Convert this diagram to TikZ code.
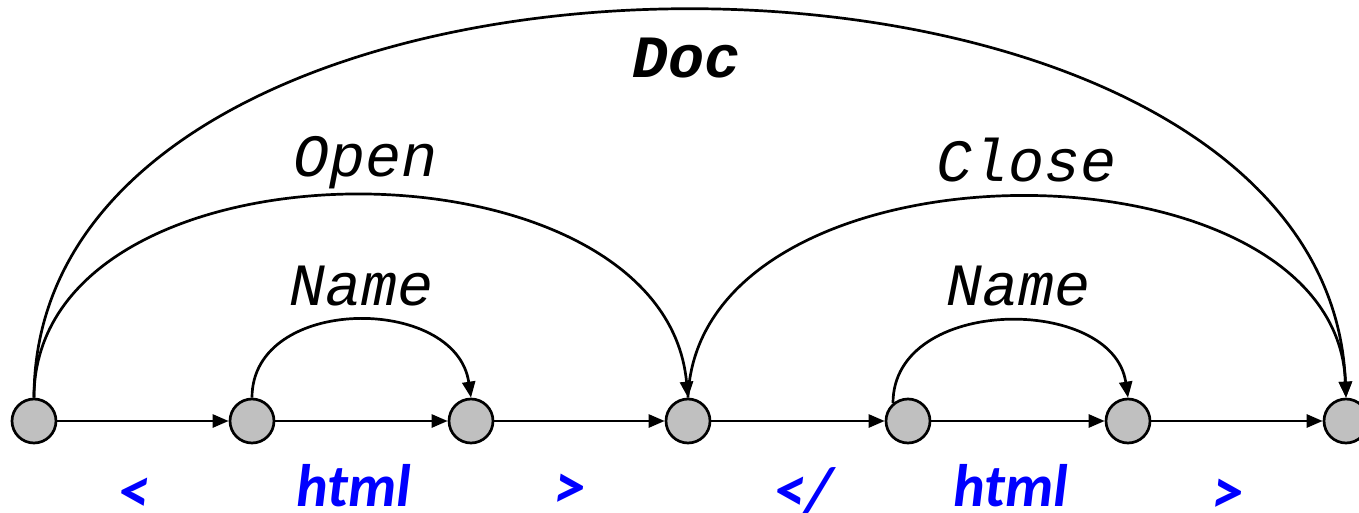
\documentclass[tikz,border=0pt]{standalone}
\usepackage{fontspec}
\setmonofont{Liberation Mono}
\newfontfamily\lblfont{Carlito}
\usetikzlibrary{arrows.meta}
\definecolor{stategray}{RGB}{192,192,192}
\tikzset{
  state/.style={circle, draw=black, line width=2.7pt, fill=stategray, minimum size=44pt, inner sep=0pt},
  arr/.style={line width=2.7pt, -{Triangle[length=16pt,width=13pt]}},
  arclabel/.style={anchor=base, inner sep=0pt, font=\ttfamily\itshape\fontsize{60}{60}\selectfont},
  doclabel/.style={anchor=base, inner sep=0pt, font=\ttfamily\bfseries\itshape\fontsize{60}{60}\selectfont},
  toklabel/.style={anchor=base, inner sep=0pt, text depth=0pt, text=blue, font=\lblfont\bfseries\itshape\fontsize{60}{60}\selectfont},
  angtoklabel/.style={toklabel, font=\lblfont\bfseries\itshape\fontsize{64}{64}\selectfont}
}
\begin{document}
\begin{tikzpicture}[x=1pt,y=-1pt]
\useasboundingbox (0,0) rectangle (1359,513);
\node[state] (n1) at (34,421) {};
\node[state] (n2) at (252,421) {};
\node[state] (n3) at (471,421) {};
\node[state] (n4) at (688,421) {};
\node[state] (n5) at (908,421) {};
\node[state] (n6) at (1128,421) {};
\node[state] (n7) at (1346,421) {};
\draw[arr] (n1) -- (n2);
\draw[arr] (n2) -- (n3);
\draw[arr] (n3) -- (n4);
\draw[arr] (n4) -- (n5);
\draw[arr] (n5) -- (n6);
\draw[arr] (n6) -- (n7);
\draw[arr] (n1.north) .. controls +(0,-516) and +(-20,-516) .. (n7.north);
\draw[arr] (n1.north) .. controls +(0,-269) and +(-25,-269) .. (n4.north);
\draw[arr] (n4.north) .. controls +(10,-267) and +(-10,-267) .. (n7.north);
\draw[arr] (n2.north) .. controls +(0,-103) and +(-15,-103) .. (n3.north);
\draw[arr] (n5.130) .. controls +(0,-108) and +(-15,-103) .. (n6.north);
\node[doclabel] (ldoc) at (686,78) {Doc};
\node[arclabel] (lopen) at (366,177) {Open};
\node[arclabel] (lclose) at (1027,182) {Close};
\node[arclabel] (lname1) at (362,305) {Name};
\node[arclabel] (lname2) at (1018,305) {Name};
\node[angtoklabel] (t1) at (133,512) {<};
\node[toklabel] (t2) at (354,506) {html};
\node[angtoklabel] (t3) at (570,508) {>};
\node[angtoklabel] (t4) at (803,511) {</};
\node[toklabel] (t5) at (1011,506) {html};
\node[angtoklabel] (t6) at (1228,513) {>};
\end{tikzpicture}
\end{document}
